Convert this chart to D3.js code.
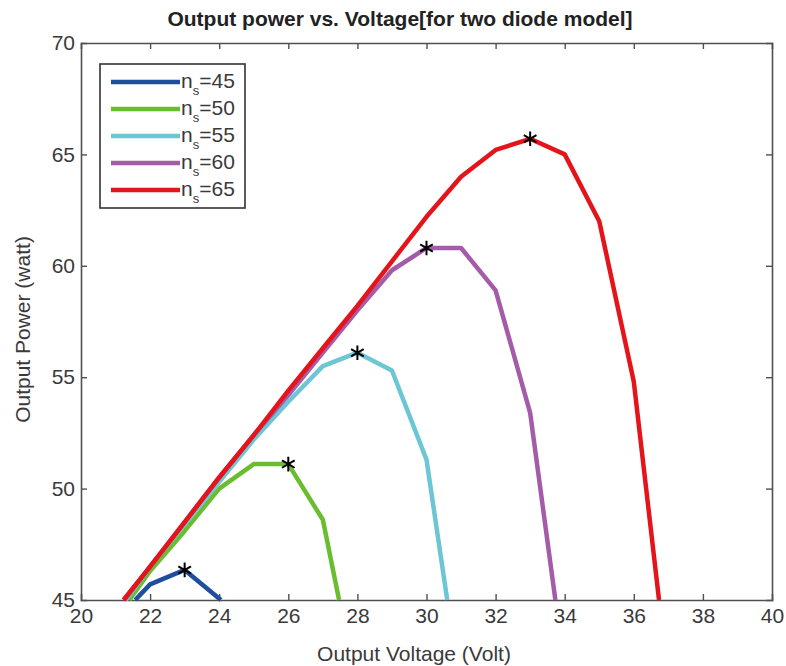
<!DOCTYPE html>
<html>
<head>
<meta charset="utf-8">
<script src="https://cdn.jsdelivr.net/npm/d3@7"></script>
<style>
  body { margin: 0; background: #fff; }
  text { font-family: "Liberation Sans", Arial, sans-serif; }
</style>
</head>
<body>
<div id="chart"></div>
<script>
// series labels and colours
const nsValues = [45, 50, 55, 60, 65];
const seriesColors = ["#1f4e9e", "#6abd2f", "#6cc6d4", "#a45ba8", "#e5141b"];

// voltage / power points
const volt45 = [21.57, 22, 23, 24.05];
const power45 = [45, 45.7, 46.35, 45];

const volt50 = [21.4, 22, 23, 24, 25, 26, 27, 27.47];
const power50 = [45, 46.3, 48.1, 50.0, 51.1, 51.1, 48.6, 45];

const volt55 = [21.3, 22, 23, 24, 25, 26, 27, 28, 29, 30, 30.6];
const power55 = [45, 46.5, 48.4, 50.3, 52.2, 53.9, 55.5, 56.1, 55.3, 51.3, 45];

const volt60 = [21.25, 22, 23, 24, 25, 26, 27, 28, 29, 30, 31, 32, 33, 33.73];
const power60 = [45, 46.5, 48.5, 50.5, 52.4, 54.2, 56.1, 58.0, 59.8, 60.8, 60.8, 58.9, 53.4, 45];

const volt65 = [21.23, 22, 23, 24, 25, 26, 27, 28, 29, 30, 31, 32, 33, 34, 35, 36, 36.73];
const power65 = [45, 46.5, 48.5, 50.5, 52.4, 54.4, 56.3, 58.2, 60.2, 62.2, 64.0, 65.2, 65.7, 65.0, 62.0, 54.8, 45];

// maximum power point voltages (marked with *)
const mppVolt = [23, 26, 28, 30, 33];

const xTicks = [20, 22, 24, 26, 28, 30, 32, 34, 36, 38, 40];
const yTicks = [45, 50, 55, 60, 65, 70];

const width = 786, height = 666;
const margin = { top: 43, right: 14, bottom: 66, left: 81 };

const svg = d3.select("#chart").append("svg")
    .attr("width", width)
    .attr("height", height);

const x = d3.scaleLinear().domain([20, 40]).range([margin.left, width - margin.right]);
const y = d3.scaleLinear().domain([45, 70]).range([height - margin.bottom, margin.top]);

const axisColor = "#505050";
const labelColor = "#3a3a3a";

// axes with inward ticks, box style
const xAxis = svg.append("g")
    .attr("transform", `translate(0,${y(45)})`)
    .call(d3.axisBottom(x).tickValues(xTicks).tickSize(-6).tickPadding(8).tickFormat(d3.format("d")));
const xAxisTop = svg.append("g")
    .attr("transform", `translate(0,${y(70)})`)
    .call(d3.axisTop(x).tickValues(xTicks).tickSize(-6).tickFormat(""));
const yAxis = svg.append("g")
    .attr("transform", `translate(${x(20)},0)`)
    .call(d3.axisLeft(y).tickValues(yTicks).tickSize(-6).tickPadding(6).tickFormat(d3.format("d")));
const yAxisRight = svg.append("g")
    .attr("transform", `translate(${x(40)},0)`)
    .call(d3.axisRight(y).tickValues(yTicks).tickSize(-6).tickFormat(""));

[xAxis, xAxisTop, yAxis, yAxisRight].forEach(g => {
    g.select(".domain").attr("stroke", axisColor).attr("stroke-width", 1.6);
    g.selectAll(".tick line").attr("stroke", axisColor).attr("stroke-width", 1.4);
    g.selectAll(".tick text")
        .attr("fill", labelColor)
        .style("font-size", "21px")
        .style("font-family", "'Liberation Sans', Arial, sans-serif");
});
// hide end ticks overlapping the box
xAxis.selectAll(".tick").filter(d => d === 20 || d === 40).select("line").remove();
xAxisTop.selectAll(".tick").filter(d => d === 20 || d === 40).select("line").remove();
yAxis.selectAll(".tick").filter(d => d === 45 || d === 70).select("line").remove();
yAxisRight.selectAll(".tick").filter(d => d === 45 || d === 70).select("line").remove();

// curves
const allVolt = [volt45, volt50, volt55, volt60, volt65];
const allPower = [power45, power50, power55, power60, power65];
const series = nsValues.map((ns, i) => ({
    ns: ns,
    color: seriesColors[i],
    points: allVolt[i].map((v, j) => ({ v: v, p: allPower[i][j] })),
    mpp: mppVolt[i]
}));

const line = d3.line().x(d => x(d.v)).y(d => y(d.p));

svg.append("g")
    .selectAll("path")
    .data(series)
    .enter().append("path")
    .attr("d", d => line(d.points))
    .attr("fill", "none")
    .attr("stroke", d => d.color)
    .attr("stroke-width", 4.5)
    .attr("stroke-linejoin", "round");

// star markers at max power point
const star = d3.symbol().type(d3.symbolAsterisk).size(150);
svg.append("g")
    .selectAll("path")
    .data(series)
    .enter().append("path")
    .attr("d", star)
    .attr("transform", d => {
        const pt = d.points.find(p => p.v === d.mpp);
        return `translate(${x(pt.v)},${y(pt.p)})`;
    })
    .attr("fill", "none")
    .attr("stroke", "#000")
    .attr("stroke-width", 2);

// legend
const legend = svg.append("g");
legend.append("rect")
    .attr("x", 100).attr("y", 64)
    .attr("width", 145).attr("height", 144)
    .attr("fill", "#fff")
    .attr("stroke", "#333")
    .attr("stroke-width", 1.6);

const rows = legend.selectAll("g.row")
    .data(series)
    .enter().append("g")
    .attr("class", "row")
    .attr("transform", (d, i) => `translate(0,${82 + i * 27})`);

rows.append("line")
    .attr("x1", 111).attr("x2", 180)
    .attr("y1", 0).attr("y2", 0)
    .attr("stroke", d => d.color)
    .attr("stroke-width", 4.5);

const rowText = rows.append("text")
    .attr("x", 181)
    .attr("y", 6)
    .attr("fill", labelColor)
    .style("font-size", "21px");
rowText.append("tspan").text("n");
rowText.append("tspan").attr("dy", 7).style("font-size", "13px").text("s");
rowText.append("tspan").attr("dy", -7).text(d => "=" + d.ns);

// titles
svg.append("text")
    .attr("x", 400)
    .attr("y", 26)
    .attr("text-anchor", "middle")
    .attr("fill", "#222")
    .style("font-size", "21px")
    .style("font-weight", "bold")
    .text("Output power vs. Voltage[for two diode model]");

svg.append("text")
    .attr("x", 414)
    .attr("y", 661)
    .attr("text-anchor", "middle")
    .attr("fill", labelColor)
    .style("font-size", "21px")
    .text("Output Voltage (Volt)");

svg.append("text")
    .attr("transform", `translate(30,${(y(45) + y(70)) / 2 + 8}) rotate(-90)`)
    .attr("text-anchor", "middle")
    .attr("fill", labelColor)
    .style("font-size", "21px")
    .text("Output Power (watt)");
</script>
</body>
</html>
